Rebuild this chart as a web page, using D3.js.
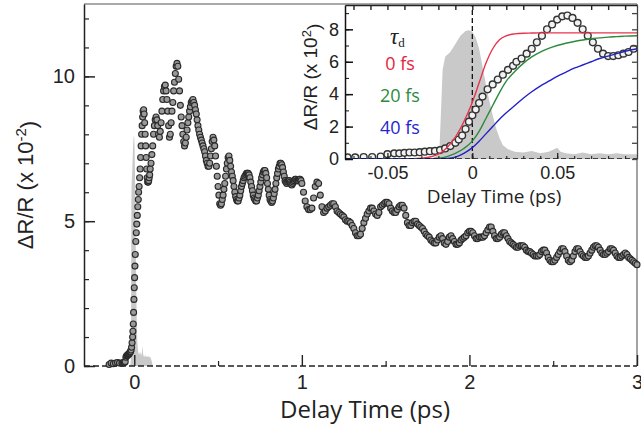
<!DOCTYPE html>
<html>
<head>
<meta charset="utf-8">
<script src="https://cdn.jsdelivr.net/npm/d3@7"></script>
<style>
  html, body { margin: 0; padding: 0; background: #fff; }
  svg { display: block; }
  .num { font-family: "Liberation Sans", Arial, sans-serif; fill: #222; }
  .lbl { font-family: "Open Sans", "Liberation Sans", sans-serif; fill: #222; }
</style>
</head>
<body>
<svg id="chart" width="641" height="435"></svg>
<script>
// ---- probe transient, main trace -------------------------------------------
// early points before time zero (only visible in the long-range panel)
const preDelay  = [-0.150, -0.138, -0.125, -0.112, -0.100, -0.088];
const preSignal = [0.05, 0.10, 0.08, 0.10, 0.12, 0.10];

// finely sampled rise around time zero (also shown in the zoomed panel)
const riseDelay = [-0.0735, -0.069, -0.064, -0.059, -0.054, -0.050, -0.046, -0.043, -0.040, -0.037,
                   -0.034, -0.031, -0.028, -0.025, -0.022, -0.019, -0.016, -0.013, -0.010, -0.008,
                   -0.006, -0.004, -0.002, 0.000, 0.002, 0.004, 0.006, 0.009, 0.012, 0.015,
                   0.018, 0.021, 0.024, 0.026, 0.029, 0.032, 0.035, 0.038, 0.041, 0.044,
                   0.047, 0.050, 0.053, 0.056, 0.059, 0.062, 0.065, 0.068, 0.071, 0.074,
                   0.077, 0.080, 0.083, 0.086, 0.089, 0.092, 0.095];
const riseSignal = [0.10, 0.10, 0.12, 0.12, 0.15, 0.30, 0.35, 0.35, 0.38, 0.40,
                    0.40, 0.42, 0.45, 0.48, 0.50, 0.55, 0.65, 0.80, 1.00, 1.20,
                    1.45, 1.85, 2.30, 2.70, 3.05, 3.45, 3.85, 4.30, 4.60, 4.90,
                    5.20, 5.50, 5.75, 6.00, 6.20, 6.50, 6.80, 7.20, 7.60, 8.00,
                    8.30, 8.60, 8.80, 8.85, 8.70, 8.40, 8.00, 7.60, 7.20, 6.80,
                    6.50, 6.35, 6.35, 6.40, 6.50, 6.60, 6.80];

// coherent-phonon region, sampled every 5 fs from 0.100 ps to 0.995 ps
const earlyStart = 0.100, earlyStep = 0.005;
const earlySignal = [
  7.0, 7.3, 7.6, 8.0, 8.3, 8.5, 8.6, 8.5, 8.3, 8.0,
  7.9, 8.1, 8.4, 8.8, 9.2, 9.5, 9.65, 9.7, 9.5, 9.2,
  8.8, 8.3, 7.9, 8.0, 8.4, 8.8, 9.1, 9.5, 9.8, 10.1,
  10.35, 10.45, 10.35, 9.9, 9.5, 9.0, 8.6, 8.3, 8.0, 7.75,
  7.6, 7.7, 7.9, 8.15, 8.4, 8.6, 8.8, 8.95, 9.1, 9.15,
  9.2, 9.1, 9.0, 8.85, 8.7, 8.5, 8.3, 8.15, 8.0, 7.9,
  7.8, 7.7, 7.6, 7.5, 7.4, 7.25, 7.1, 7.0, 6.9, 6.9,
  7.0, 7.25, 7.5, 7.75, 7.9, 7.8, 7.6, 7.25, 6.9, 6.55,
  6.2, 5.9, 5.6, 5.55, 5.6, 5.75, 5.9, 6.1, 6.3, 6.55,
  6.8, 7.0, 7.2, 7.25, 7.1, 6.9, 6.7, 6.55, 6.4, 6.2,
  6.0, 5.85, 5.75, 5.7, 5.7, 5.8, 5.9, 6.05, 6.2, 6.3,
  6.4, 6.5, 6.55, 6.6, 6.65, 6.65, 6.65, 6.6, 6.5, 6.35,
  6.2, 6.05, 5.9, 5.8, 5.75, 5.7, 5.7, 5.8, 5.9, 6.05,
  6.2, 6.35, 6.5, 6.6, 6.7, 6.75, 6.75, 6.65, 6.5, 6.3,
  6.1, 5.9, 5.75, 5.7, 5.65, 5.7, 5.8, 5.95, 6.1, 6.3,
  6.5, 6.65, 6.8, 6.9, 7.0, 7.0, 6.95, 6.85, 6.7, 6.55,
  6.4, 6.35, 6.3, 6.35, 6.4, 6.4, 6.35, 6.3, 6.25, 6.3,
  6.35, 6.4, 6.45, 6.45, 6.4, 6.4, 6.4, 6.45, 6.45, 6.4
];

// long-range decay, sampled every 10 fs from 1.00 ps to 3.00 ps
const lateStart = 1.00, lateStep = 0.01;
const lateSignal = [
  6.3, 6.0, 5.7, 5.5, 5.4, 5.4, 5.45, 5.8, 6.2, 6.35,
  6.3, 5.9, 5.5, 5.3, 5.35, 5.45, 5.5, 5.55, 5.6, 5.6,
  5.5, 5.35, 5.3, 5.25, 5.2, 5.15, 5.05, 5.0, 5.0, 4.95,
  4.85, 4.75, 4.6, 4.5, 4.5, 4.55, 4.75, 4.95, 5.1, 5.25,
  5.35, 5.45, 5.45, 5.35, 5.25, 5.2, 5.3, 5.5, 5.55, 5.6,
  5.65, 5.65, 5.6, 5.45, 5.35, 5.3, 5.3, 5.4, 5.5, 5.55,
  5.55, 5.45, 5.2, 4.95, 4.85, 4.85, 4.95, 5.0, 5.0, 4.9,
  4.85, 4.8, 4.75, 4.65, 4.55, 4.5, 4.45, 4.35, 4.3, 4.25,
  4.25, 4.35, 4.45, 4.5, 4.4, 4.25, 4.2, 4.3, 4.45, 4.5,
  4.4, 4.3, 4.2, 4.2, 4.25, 4.35, 4.4, 4.45, 4.5, 4.6,
  4.65, 4.65, 4.6, 4.5, 4.4, 4.4, 4.45, 4.45, 4.45, 4.5,
  4.6, 4.7, 4.8, 4.8, 4.65, 4.5, 4.4, 4.4, 4.45, 4.55,
  4.6, 4.6, 4.5, 4.4, 4.3, 4.25, 4.2, 4.15, 4.1, 4.1,
  4.15, 4.15, 4.15, 4.1, 4.0, 3.95, 3.95, 3.9, 3.85, 3.8,
  3.8, 3.8, 3.85, 3.95, 4.0, 4.0, 3.9, 3.75, 3.65, 3.6,
  3.6, 3.65, 3.75, 3.85, 3.95, 4.05, 4.05, 3.95, 3.8, 3.65,
  3.6, 3.65, 3.8, 3.95, 4.05, 4.05, 3.95, 3.85, 3.8, 3.75,
  3.75, 3.8, 3.9, 4.0, 4.1, 4.15, 4.15, 4.1, 4.0, 3.9,
  3.85, 3.85, 3.9, 3.95, 4.05, 4.05, 4.0, 3.9, 3.8, 3.75,
  3.75, 3.8, 3.85, 3.9, 3.85, 3.75, 3.7, 3.65, 3.6, 3.55,
  3.5
];

// ---- pump pulse cross-correlation (grey shading) ---------------------------
const pulseDelay = [-0.024, -0.0195, -0.0185, -0.0175, -0.016, -0.013, -0.010, -0.007, -0.004, -0.002,
                    0.000, 0.002, 0.004, 0.006, 0.008, 0.010, 0.012, 0.014, 0.016, 0.018,
                    0.021, 0.025, 0.030, 0.035, 0.040, 0.045, 0.050, 0.052, 0.055, 0.060,
                    0.065, 0.070, 0.075, 0.080, 0.085, 0.090, 0.097, 0.105, 0.110];
const pulseLevel = [0, 0.3, 2.8, 5.5, 6.3, 6.6, 7.1, 7.6, 7.9, 7.95,
                    7.85, 7.5, 6.8, 5.7, 4.6, 3.6, 2.7, 1.9, 1.3, 0.85,
                    0.6, 0.45, 0.4, 0.5, 0.35, 0.45, 0.7, 0.45, 0.35, 0.3,
                    0.4, 0.3, 0.35, 0.3, 0.35, 0.3, 0.3, 0.15, 0];

// ---- model rise curves for three decay times -------------------------------
const fitDelay = [-0.075, -0.040, -0.030, -0.025, -0.020, -0.015, -0.010, -0.005, 0.000, 0.004,
                  0.008, 0.012, 0.016, 0.020, 0.025, 0.030, 0.035, 0.040, 0.045, 0.050,
                  0.055, 0.060, 0.065, 0.070, 0.075, 0.080, 0.085, 0.090, 0.097];
const fit0fs  = [0, 0, 0.05, 0.12, 0.30, 0.70, 1.35, 2.30, 3.50, 4.70,
                 5.90, 6.80, 7.35, 7.60, 7.72, 7.76, 7.77, 7.78, 7.78, 7.78,
                 7.78, 7.78, 7.78, 7.78, 7.78, 7.78, 7.78, 7.78, 7.78];
const fit20fs = [0, 0, 0, 0.02, 0.05, 0.15, 0.35, 0.65, 1.10, 1.70,
                 2.50, 3.30, 4.10, 4.80, 5.40, 5.90, 6.30, 6.60, 6.82, 7.00,
                 7.14, 7.25, 7.34, 7.42, 7.47, 7.52, 7.55, 7.58, 7.60];
const fit40fs = [0, 0, 0, 0, 0, 0.03, 0.12, 0.35, 0.70, 1.10,
                 1.55, 2.00, 2.45, 2.85, 3.30, 3.75, 4.15, 4.50, 4.80, 5.10,
                 5.35, 5.60, 5.80, 6.00, 6.20, 6.35, 6.50, 6.65, 6.80];

const legendLabels = ["0 fs", "20 fs", "40 fs"];
const legendColors = ["#e3263e", "#2e8a3c", "#2626d0"];
const lineColors   = ["#e8344e", "#2c8a3c", "#2222c8"];

const mainXTicks = [0, 1, 2, 3], mainXMinor = [0.5, 1.5, 2.5];
const mainYTicks = [0, 5, 10],   mainYMinor = d3.range(0, 13);
const insetXTicks = [-0.05, 0, 0.05], insetXMinor = d3.range(-7, 10).map(i => i / 100);
const insetYTicks = [0, 2, 4, 6, 8], insetYMinor = d3.range(0, 10);

// ---- assemble records ------------------------------------------------------
const trace = [];
preDelay.forEach((t, i) => trace.push({ t, v: preSignal[i] }));
riseDelay.forEach((t, i) => trace.push({ t, v: riseSignal[i] }));
earlySignal.forEach((v, i) => trace.push({ t: earlyStart + i * earlyStep, v }));
lateSignal.forEach((v, i) => trace.push({ t: lateStart + i * lateStep, v }));
const rise = riseDelay.map((t, i) => ({ t, v: riseSignal[i] }));
const pulse = pulseDelay.map((t, i) => ({ t, v: pulseLevel[i] }));
const fits = [fit0fs, fit20fs, fit40fs].map(arr => fitDelay.map((t, i) => ({ t, v: arr[i] })));

const svg = d3.select("#chart");

// ---- main panel ------------------------------------------------------------
const mx = d3.scaleLinear().domain([-0.3, 3]).range([84, 637]);
const my = d3.scaleLinear().domain([0, 12.5]).range([366, 4]);

// grey pulse
svg.append("path")
  .datum(pulse)
  .attr("fill", "#c9c9c9")
  .attr("d", d3.area().x(d => mx(d.t)).y0(my(0)).y1(d => my(d.v)));

// frame (top / right)
svg.append("line").attr("x1", 84).attr("x2", 637).attr("y1", 4).attr("y2", 4)
  .attr("stroke", "#8c8c8c").attr("stroke-width", 1.6);
svg.append("line").attr("x1", 637).attr("x2", 637).attr("y1", 4).attr("y2", 366)
  .attr("stroke", "#8c8c8c").attr("stroke-width", 1.6);

// dashed zero line
svg.append("line")
  .attr("x1", mx(-0.3)).attr("x2", mx(3)).attr("y1", my(0)).attr("y2", my(0))
  .attr("stroke", "#222").attr("stroke-width", 1.4).attr("stroke-dasharray", "6,3");

// data markers
svg.append("g").selectAll("circle").data(trace).join("circle")
  .attr("cx", d => mx(d.t)).attr("cy", d => my(d.v)).attr("r", 3.0)
  .attr("fill", "#999").attr("stroke", "#2a2a2a").attr("stroke-width", 1.1);

function styleAxis(g, color, width) {
  g.selectAll(".tick line").attr("stroke", color).attr("stroke-width", width);
  g.select(".domain").attr("stroke", color).attr("stroke-width", width);
}

// y axis
const gyMinor = svg.append("g").attr("transform", "translate(84,0)")
  .call(d3.axisLeft(my).tickValues(mainYMinor).tickSize(-5).tickSizeOuter(0).tickFormat(""));
gyMinor.select(".domain").remove();
styleAxis(gyMinor, "#222", 1.2);
const gy = svg.append("g").attr("transform", "translate(84,0)")
  .call(d3.axisLeft(my).tickValues(mainYTicks).tickSize(-11).tickSizeOuter(0).tickPadding(9).tickFormat(d3.format("d")));
styleAxis(gy, "#222", 1.5);
gy.selectAll("text").attr("class", "num").style("font-size", "20px");

// x axis
const gxMinor = svg.append("g").attr("transform", `translate(0,${my(0)})`)
  .call(d3.axisBottom(mx).tickValues(mainXMinor).tickSize(-5).tickSizeOuter(0).tickFormat(""));
gxMinor.select(".domain").remove();
styleAxis(gxMinor, "#222", 1.2);
const gx = svg.append("g").attr("transform", `translate(0,${my(0)})`)
  .call(d3.axisBottom(mx).tickValues(mainXTicks).tickSize(-11).tickSizeOuter(0).tickPadding(9).tickFormat(d3.format("d")));
gx.select(".domain").remove();
styleAxis(gx, "#222", 1.4);
gx.selectAll("text").attr("class", "num").style("font-size", "20px");

// axis titles
svg.append("text").attr("class", "lbl")
  .attr("x", 365).attr("y", 418).attr("text-anchor", "middle")
  .style("font-size", "24px").text("Delay Time (ps)");

const yTitle = svg.append("text").attr("class", "num")
  .attr("transform", "translate(33,185) rotate(-90)")
  .attr("text-anchor", "middle").style("font-size", "22px");
yTitle.append("tspan").text("\u0394R/R (x 10");
yTitle.append("tspan").attr("dy", "-0.45em").style("font-size", "15px").text("-2");
yTitle.append("tspan").attr("dy", "0.45em").text(")");

// ---- inset panel -----------------------------------------------------------
const ix = d3.scaleLinear().domain([-0.075, 0.097]).range([345, 637]);
const iy = d3.scaleLinear().domain([0, 9.5]).range([159, 5]);

svg.append("rect").attr("x", 345).attr("y", 5).attr("width", 292).attr("height", 154).attr("fill", "#fff");

svg.append("defs").append("clipPath").attr("id", "insetClip")
  .append("rect").attr("x", 345).attr("y", 5).attr("width", 292).attr("height", 154);
const inset = svg.append("g").attr("clip-path", "url(#insetClip)");

inset.append("path").datum(pulse)
  .attr("fill", "#c9c9c9")
  .attr("d", d3.area().x(d => ix(d.t)).y0(iy(0)).y1(d => iy(d.v)));

inset.append("line")
  .attr("x1", ix(0)).attr("x2", ix(0)).attr("y1", iy(0)).attr("y2", iy(9.5))
  .attr("stroke", "#111").attr("stroke-width", 1.3).attr("stroke-dasharray", "5,3");

inset.append("g").selectAll("circle").data(rise).join("circle")
  .attr("cx", d => ix(d.t)).attr("cy", d => iy(d.v)).attr("r", 3.4)
  .attr("fill", "#f2f2f2").attr("stroke", "#333").attr("stroke-width", 1.4);

const fitLine = d3.line().x(d => ix(d.t)).y(d => iy(d.v)).curve(d3.curveMonotoneX);
fits.forEach((f, i) => {
  inset.append("path").datum(f).attr("fill", "none")
    .attr("stroke", lineColors[i]).attr("stroke-width", 1.4).attr("d", fitLine);
});

inset.append("line")
  .attr("x1", ix(-0.075)).attr("x2", ix(0.097)).attr("y1", iy(0)).attr("y2", iy(0))
  .attr("stroke", "#111").attr("stroke-width", 1.4).attr("stroke-dasharray", "5,3");

// inset axes
const iyMinor = svg.append("g").attr("transform", "translate(345,0)")
  .call(d3.axisLeft(iy).tickValues(insetYMinor).tickSize(-4).tickSizeOuter(0).tickFormat(""));
iyMinor.select(".domain").remove();
styleAxis(iyMinor, "#222", 1.1);
const iyAxis = svg.append("g").attr("transform", "translate(345,0)")
  .call(d3.axisLeft(iy).tickValues(insetYTicks).tickSize(-8).tickSizeOuter(0).tickPadding(6).tickFormat(d3.format("d")));
styleAxis(iyAxis, "#111", 1.5);
iyAxis.selectAll("text").attr("class", "num").style("font-size", "18px");

const iyRight = svg.append("g").attr("transform", "translate(637,0)")
  .call(d3.axisRight(iy).tickValues(insetYMinor).tickSize(-5).tickSizeOuter(0).tickFormat(""));
styleAxis(iyRight, "#444", 1.3);

const ixTop = svg.append("g").attr("transform", "translate(0,5)")
  .call(d3.axisTop(ix).tickValues(insetXMinor).tickSize(-5).tickSizeOuter(0).tickFormat(""));
styleAxis(ixTop, "#222", 1.4);

const ixMinor = svg.append("g").attr("transform", `translate(0,${iy(0)})`)
  .call(d3.axisBottom(ix).tickValues(insetXMinor).tickSize(-3).tickSizeOuter(0).tickFormat(""));
ixMinor.select(".domain").remove();
styleAxis(ixMinor, "#222", 1.1);
const ixAxis = svg.append("g").attr("transform", `translate(0,${iy(0)})`)
  .call(d3.axisBottom(ix).tickValues(insetXTicks).tickSize(-6).tickSizeOuter(0).tickPadding(7)
    .tickFormat(d => d === 0 ? "0" : d.toFixed(2)));
ixAxis.select(".domain").remove();
styleAxis(ixAxis, "#222", 1.3);
ixAxis.selectAll("text").attr("class", "num").style("font-size", "18px");

svg.append("text").attr("class", "lbl")
  .attr("x", 494).attr("y", 203).attr("text-anchor", "middle")
  .style("font-size", "19px").text("Delay Time (ps)");

const iyTitle = svg.append("text").attr("class", "num")
  .attr("transform", "translate(317,77) rotate(-90)")
  .attr("text-anchor", "middle").style("font-size", "19px");
iyTitle.append("tspan").text("\u0394R/R (x 10");
iyTitle.append("tspan").attr("dy", "-0.45em").style("font-size", "13px").text("2");
iyTitle.append("tspan").attr("dy", "0.45em").text(")");

// legend
const tau = svg.append("text").attr("x", 390).attr("y", 44)
  .style("font-family", "'Liberation Serif', 'DejaVu Serif', serif").style("font-style", "italic")
  .style("font-size", "23px").attr("fill", "#222");
tau.append("tspan").text("\u03c4");
tau.append("tspan").attr("dy", "3").style("font-size", "13px").style("font-style", "normal").text("d");

svg.append("g").selectAll("text").data(legendLabels).join("text")
  .attr("class", "lbl")
  .attr("x", 400).attr("y", (d, i) => 70 + i * 32)
  .attr("text-anchor", "middle")
  .style("font-size", "18px")
  .style("fill", (d, i) => legendColors[i])
  .text(d => d);
</script>
</body>
</html>
